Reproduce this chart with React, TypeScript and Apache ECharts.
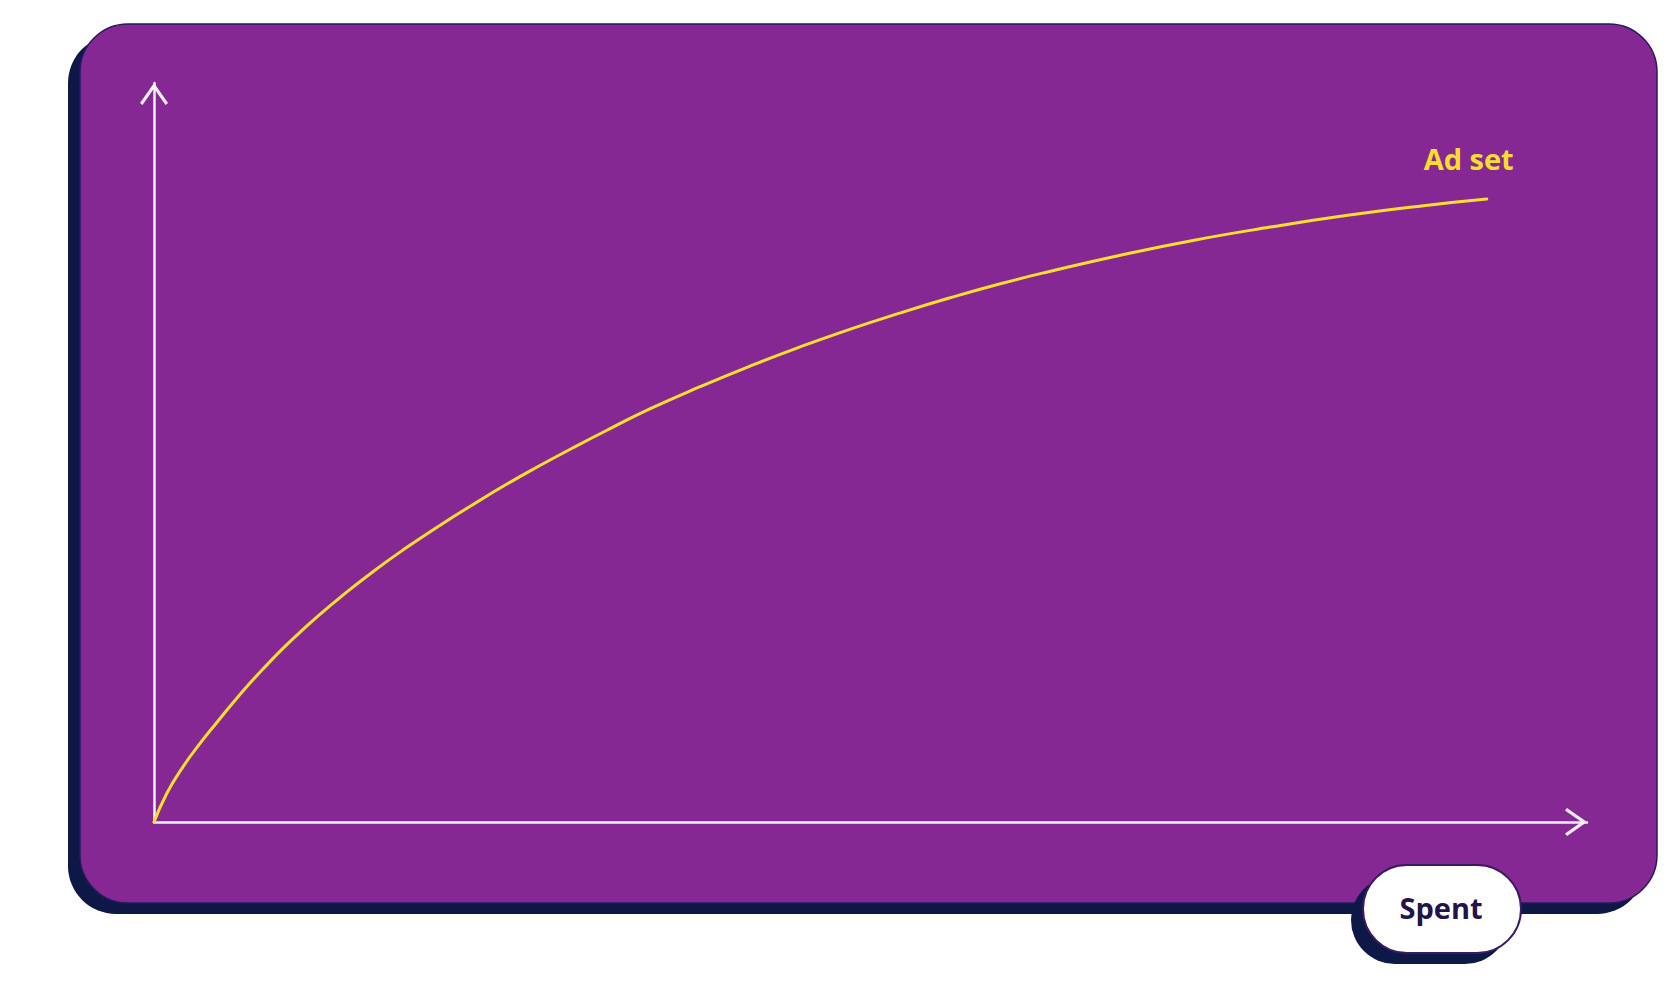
import React, { useEffect, useRef } from "react";
import * as echarts from "echarts";

// spend (x) vs results (y), both on a 0-100 scale
const spent = [
  0, 0.9, 2, 3.2, 4.4, 5.5, 6.7, 7.9, 9, 10.2, 11.4, 13, 15.3, 17.6, 20, 22.3,
  24.6, 26.9, 29.3, 31.8, 34.6, 38.1, 41.6, 45.1, 48.6, 52.1, 55.5, 59, 62.5,
  67.2, 72.5, 77.9, 83.3, 88.6, 93,
];
const results = [
  0, 3.9, 7.4, 10.6, 13.5, 16.1, 18.8, 21.3, 23.5, 25.7, 27.8, 30.4, 33.9, 37.1,
  40.2, 43, 45.7, 48.2, 50.7, 53.2, 55.9, 58.9, 61.7, 64.3, 66.7, 68.9, 70.9,
  72.8, 74.5, 76.6, 78.7, 80.5, 82.1, 83.4, 84.3,
];
const seriesName = "Ad set";
const xAxisName = "Spent";

const NAVY = "#0d1846";
const PURPLE = "#862894";
const YELLOW = "#f7de2e";
const AXIS = "#f6f0f8";
const FONT = "Open Sans";

// open chevron, tip up (axis builder rotates it)
const chevron = "path://M14,0 L28,20 L25.5,22 L14,5.5 L2.5,22 L0,20 Z";

const axisCommon = {
  type: "value" as const,
  min: 0,
  max: 100,
  z: 5,
  axisLine: {
    show: true,
    symbol: ["none", chevron],
    symbolSize: [28, 22],
    symbolOffset: [0, -11],
    lineStyle: { color: AXIS, width: 2.5 },
  },
  axisTick: { show: false },
  axisLabel: { show: false },
  splitLine: { show: false },
};

const App: React.FC = () => {
  const chartRef = useRef<HTMLDivElement>(null);

  useEffect(() => {
    if (!chartRef.current) return;
    const chart = echarts.init(chartRef.current, undefined, { renderer: "svg" });

    const option: echarts.EChartsOption = {
      animation: false,
      backgroundColor: "#ffffff",
      grid: { left: 154, right: 93, top: 83, bottom: 166, containLabel: false },
      xAxis: axisCommon,
      yAxis: axisCommon,
      series: [
        {
          name: seriesName,
          type: "line",
          z: 6,
          smooth: true,
          showSymbol: false,
          data: spent.map((x, i) => [x, results[i]]),
          lineStyle: { color: YELLOW, width: 3, cap: "round" },
          itemStyle: { color: YELLOW },
          endLabel: {
            show: true,
            formatter: "{a}",
            color: YELLOW,
            fontFamily: FONT,
            fontWeight: "bold",
            fontSize: 29,
            align: "center",
            verticalAlign: "bottom",
            distance: 0,
            offset: [-18, -26],
          },
        },
      ],
      graphic: [
        {
          type: "rect",
          z: -2,
          shape: { x: 68, y: 35, width: 1577, height: 879, r: 48 },
          style: { fill: NAVY },
        },
        {
          type: "rect",
          z: -1,
          shape: { x: 80, y: 24, width: 1577, height: 879, r: 48 },
          style: { fill: PURPLE, stroke: "#2a1860", lineWidth: 1.5 },
        },
        {
          type: "rect",
          z: 10,
          shape: { x: 1351, y: 876, width: 158, height: 88, r: 44 },
          style: { fill: NAVY },
        },
        {
          type: "rect",
          z: 11,
          shape: { x: 1363, y: 865, width: 158, height: 88, r: 44 },
          style: { fill: "#ffffff", stroke: "#3b1a63", lineWidth: 2 },
        },
        {
          type: "text",
          z: 12,
          style: {
            text: xAxisName,
            x: 1441,
            y: 907,
            align: "center",
            verticalAlign: "middle",
            font: `bold 29px '${FONT}'`,
            fill: "#24124a",
          },
        },
      ],
    };

    chart.setOption(option);
    return () => {
      chart.dispose();
    };
  }, []);

  return (
    <div
      ref={chartRef}
      style={{ position: "fixed", left: 0, top: 0, width: 1680, height: 988 }}
    />
  );
};

export default App;
